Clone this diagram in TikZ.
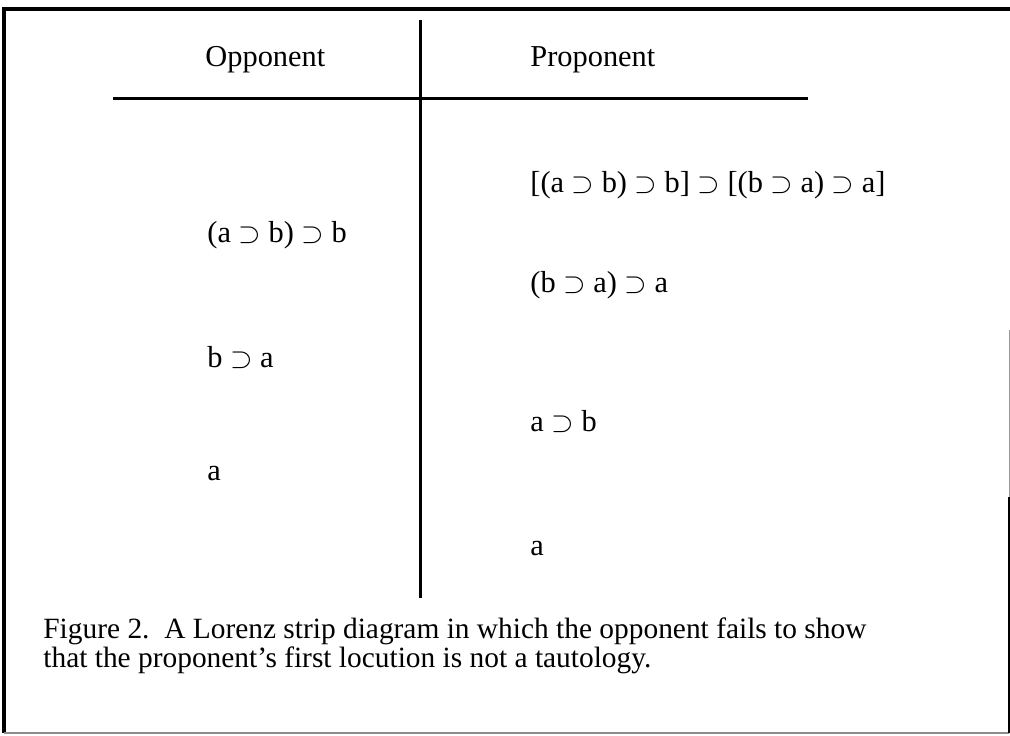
\documentclass[tikz,border=0pt]{standalone}
\usepackage{fontspec}
\setmainfont{Liberation Serif}

\tikzset{
  strip/.style={font=\fontsize{15.2}{18}\selectfont,anchor=base west,inner sep=0pt},
  rule/.style={line width=1.5pt,black}
}
\newcommand{\imp}{\ensuremath{\supset}}

\begin{document}
\begin{tikzpicture}[x=0.5pt,y=-0.5pt]
  \useasboundingbox (0,0) rectangle (1010,735);

  % frame round the figure
  \path[draw,line width=1.6pt] (1010,9) -- (4,9) -- (4,733);
  \path[draw,line width=.8pt,black!45] (4,733) -- (1009,733);
  \path[draw,line width=.5pt,black!40] (1009,330) -- (1009,497);
  \path[draw,line width=1pt] (1009,497) -- (1009,733);

  % strip heads
  \node[strip] (opp) at (205,66) {Opponent};
  \node[strip] (prop) at (530,66) {Proponent};

  % locutions, top to bottom
  \node[strip] (p1) at (530,192) {[(a \imp{} b) \imp{} b] \imp{} [(b \imp{} a) \imp{} a]};
  \node[strip] (o1) at (207,242) {(a \imp{} b) \imp{} b};
  \node[strip] (p2) at (530,292) {(b \imp{} a) \imp{} a};
  \node[strip] (o2) at (207,367) {b \imp{} a};
  \node[strip] (p3) at (530,431) {a \imp{} b};
  \node[strip] (o3) at (207,480) {a};
  \node[strip] (p4) at (530,555) {a};

  % the cross
  \coordinate (rule w) at (113,98);
  \coordinate (rule e) at (808,98);
  \coordinate (mid n) at (420,20);
  \coordinate (mid s) at (420,598);
  \path[draw,rule] (rule w) -- (rule e);
  \path[draw,rule] (mid n) -- (mid s);

  % base anchor sits on the last line
  \node[strip,align=left,font=\fontsize{14.7}{14.5}\selectfont] (caption) at (43,667)
    {Figure 2.\ \ A Lorenz strip diagram in which the opponent fails to show\\
     that the proponent's first locution is not a tautology.};
\end{tikzpicture}
\end{document}
